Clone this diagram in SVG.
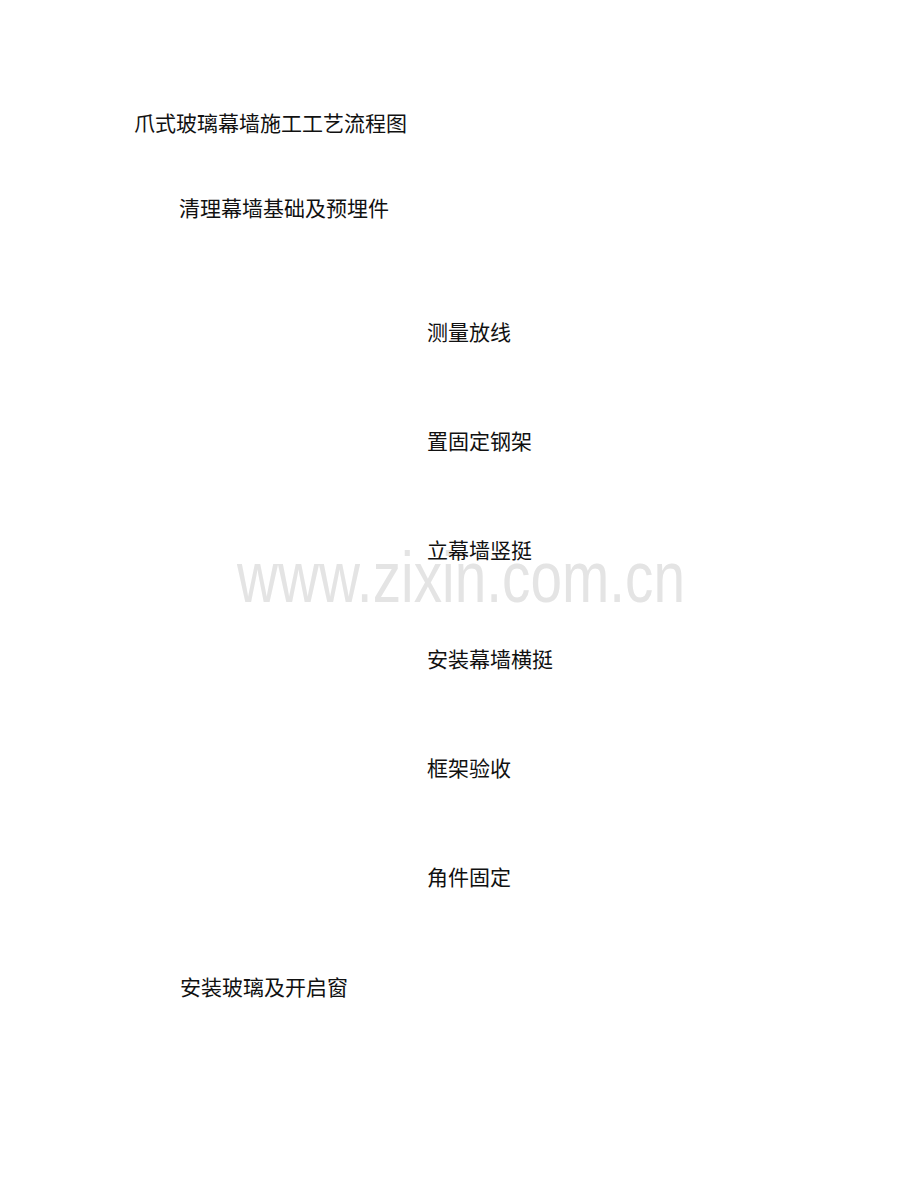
<svg xmlns="http://www.w3.org/2000/svg" width="920" height="1191" viewBox="0 0 920 1191">
<style>
.t{font-family:"Noto Sans CJK SC","Noto Sans",sans-serif;font-size:21px;fill:#111}
.wm{font-family:"Liberation Sans",Arial,sans-serif;font-size:72px;fill:#e4e4e4}
</style>
<rect width="920" height="1191" fill="#fff"/>
<text class="wm" x="237" y="602" textLength="448" lengthAdjust="spacingAndGlyphs">www.zixin.com.cn</text>
<g id="title"><text class="t" x="134" y="131">爪式玻璃幕墙施工工艺流程图</text></g>
<g id="n1"><text class="t" x="179" y="216">清理幕墙基础及预埋件</text></g>
<g id="n2"><text class="t" x="427" y="340">测量放线</text></g>
<g id="n3"><text class="t" x="427" y="449">置固定钢架</text></g>
<g id="n4"><text class="t" x="427" y="558">立幕墙竖挺</text></g>
<g id="n5"><text class="t" x="427" y="667">安装幕墙横挺</text></g>
<g id="n6"><text class="t" x="427" y="776">框架验收</text></g>
<g id="n7"><text class="t" x="427" y="885">角件固定</text></g>
<g id="n8"><text class="t" x="180" y="995">安装玻璃及开启窗</text></g>
<g id="connectors"></g>
</svg>
